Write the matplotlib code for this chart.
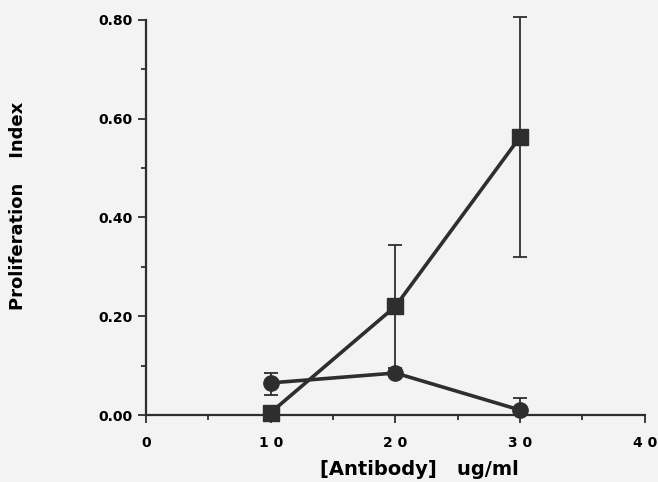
import numpy as np
import matplotlib.pyplot as plt

# data
conc = [10, 20, 30]
square_vals = [0.005, 0.22, 0.563]
square_lo = [0.0, 0.125, 0.243]
square_hi = [0.0, 0.125, 0.243]
circle_vals = [0.065, 0.085, 0.01]
circle_lo = [0.025, 0.0, 0.0]
circle_hi = [0.02, 0.0, 0.025]

x_ticks = [0, 10, 20, 30, 40]
x_ticklabels = ["0", "1 0", "2 0", "3 0", "4 0"]
y_ticks = [0.0, 0.2, 0.4, 0.6, 0.8]
y_ticklabels = ["0.00", "0.20", "0.40", "0.60", "0.80"]

plt.rcParams['font.family'] = ['DejaVu Sans']
plt.rcParams['font.weight'] = 'bold'

ink = '#2e2e2e'
bg = '#f3f3f3'

fig = plt.figure(figsize=(6.58, 4.82), dpi=100, facecolor=bg)
ax = fig.add_axes([0.222, 0.139, 0.758, 0.82])
ax.set_facecolor(bg)

series = [(square_vals, square_lo, square_hi, 's'), (circle_vals, circle_lo, circle_hi, 'o')]
for vals, lo, hi, mk in series:
    lines = ax.errorbar(conc, vals, yerr=[lo, hi], color=ink, marker=mk, markersize=11,
                        linewidth=2.6, elinewidth=1.3, capsize=5, capthick=1.3, zorder=3)
    for art in lines.get_children():
        art.set_clip_on(False)

ax.set_xlim(0, 40)
ax.set_ylim(0, 0.8)
ax.set_xticks(x_ticks)
ax.set_xticklabels(x_ticklabels, fontsize=10, fontweight='bold')
ax.set_yticks(y_ticks)
ax.set_yticklabels(y_ticklabels, fontsize=10, fontweight='bold')
ax.set_xticks([5, 15, 25, 35], minor=True)
ax.set_yticks([0.1, 0.3, 0.5, 0.7], minor=True)
ax.tick_params(which='major', direction='out', length=6, width=1.3, color=ink)
ax.tick_params(which='minor', direction='out', length=3.5, width=1.3, color=ink)
ax.tick_params(axis='x', which='major', pad=9)
ax.tick_params(axis='y', which='major', pad=4)

for s in ['top', 'right']:
    ax.spines[s].set_visible(False)
for s in ['left', 'bottom']:
    ax.spines[s].set_linewidth(1.6)
    ax.spines[s].set_color(ink)

ax.set_xlabel("[Antibody]   ug/ml", fontsize=14, fontweight='bold')
ax.xaxis.set_label_coords(0.547, -0.115)
ax.set_ylabel("Proliferation    Index", fontsize=13, fontweight='bold')
ax.yaxis.set_label_coords(-0.238, 0.53)

fig.savefig("out.png", dpi=100, facecolor=bg)
